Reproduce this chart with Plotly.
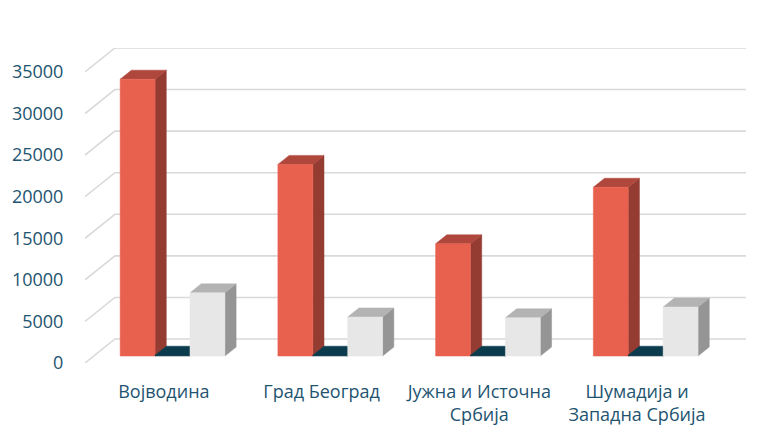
import plotly.graph_objects as go

# ---- data ----
categories = ["Војводина", "Град Београд", "Јужна и Источна<br>Србија", "Шумадија и<br>Западна Србија"]
series_red = [33300, 23050, 13500, 20300]
series_dark = [100, 100, 100, 100]
series_white = [7600, 4700, 4600, 5900]
y_ticks = [0, 5000, 10000, 15000, 20000, 25000, 30000, 35000]

# ---- projection constants (oblique 3D look) ----
DX = 0.1896      # depth shift in category units
DY = 2887.0      # depth shift in value units
F0, F1 = 0.29, 0.665  # bar front / back depth fractions
GAP = 0.168
BW = (1 - 2 * GAP) / 3
X_END = 4.191
Y_END = 35000 + DY

TEXT = "#1E5470"
GRID = "#D9D9D9"
styles = [
    ("#E8604E", "#B0473C", "#943C32"),   # red
    ("#0A3646", "#0B3C4E", "#082E3B"),   # dark
    ("#E7E7E7", "#B3B3B3", "#959595"),   # light grey
]

fig = go.Figure()

# gridlines: diagonal on floor/side + back wall horizontal
for t in y_ticks:
    fig.add_trace(go.Scatter(
        x=[0, DX, X_END], y=[t, t + DY, t + DY], mode="lines",
        line=dict(color=GRID, width=1.6), hoverinfo="skip", showlegend=False))


def poly(xs, ys, color):
    fig.add_trace(go.Scatter(
        x=xs + [xs[0]], y=ys + [ys[0]], mode="lines", fill="toself",
        fillcolor=color, line=dict(color=color, width=0.5),
        hoverinfo="skip", showlegend=False))


series = [series_red, series_dark, series_white]
for i in range(len(categories)):
    for s, vals in enumerate(series):
        v = vals[i]
        front, top, side = styles[s]
        xl = i + GAP + s * BW
        xr = xl + BW
        a0x, a0y = F0 * DX, F0 * DY
        a1x, a1y = F1 * DX, F1 * DY
        # side face
        poly([xr + a0x, xr + a1x, xr + a1x, xr + a0x],
             [a0y, a1y, v + a1y, v + a0y], side)
        # top face
        poly([xl + a0x, xr + a0x, xr + a1x, xl + a1x],
             [v + a0y, v + a0y, v + a1y, v + a1y], top)
        # front face
        poly([xl + a0x, xr + a0x, xr + a0x, xl + a0x],
             [a0y, a0y, v + a0y, v + a0y], front)

fig.update_layout(
    width=784, height=444,
    margin=dict(l=83, r=38, t=48, b=81),
    paper_bgcolor="white", plot_bgcolor="white",
    font=dict(family="Open Sans", size=18, color=TEXT),
    showlegend=False,
    xaxis=dict(range=[0, X_END], showgrid=False, zeroline=False, showline=False,
               tickmode="array", tickvals=[i + 0.5 for i in range(len(categories))],
               ticktext=categories, ticks="outside", ticklen=12,
               tickcolor="rgba(0,0,0,0)", tickfont=dict(size=18, color=TEXT),
               fixedrange=True),
    yaxis=dict(range=[0, Y_END], showgrid=False, zeroline=False, showline=False,
               tickmode="array", tickvals=y_ticks, ticktext=[str(t) for t in y_ticks],
               ticks="outside", ticklen=17, tickcolor="rgba(0,0,0,0)",
               tickfont=dict(size=18, color=TEXT), fixedrange=True),
)

fig.write_html("out.html", post_script="document.body.style.margin='0';",
               config={"displayModeBar": False})
